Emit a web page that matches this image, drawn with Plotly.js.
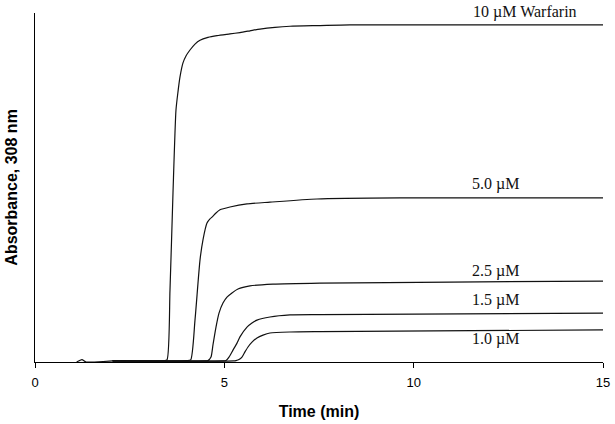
<!DOCTYPE html>
<html>
<head>
<meta charset="utf-8">
<script src="https://cdn.plot.ly/plotly-3.0.1.min.js"></script>
<style>html,body{margin:0;padding:0;background:#fff;}#chart{width:615px;height:424px;}</style>
</head>
<body>
<div id="chart"></div>
<script>
// Time (min) and absorbance (arbitrary units)
const t10  = [1.10, 1.24, 1.35, 2.05, 3.40, 3.486, 3.565, 3.644, 3.723, 3.776, 3.829, 3.908, 3.987, 4.093, 4.225, 4.357, 4.568, 4.806, 5.149, 5.413, 5.677, 5.941, 6.337, 6.734, 7.526, 8.318, 15.0];
const y10  = [0.000, 0.007, 0.000, 0.003, 0.004, 0.006, 0.206, 0.484, 0.722, 0.774, 0.817, 0.857, 0.877, 0.894, 0.911, 0.922, 0.930, 0.935, 0.940, 0.944, 0.949, 0.954, 0.959, 0.962, 0.964, 0.966, 0.966];

const t50  = [2.05, 4.00, 4.111, 4.225, 4.357, 4.436, 4.542, 4.621, 4.674, 4.780, 4.885, 5.149, 5.598, 6.205, 7.447, 9.638, 15.0];
const y50  = [0.003, 0.004, 0.006, 0.120, 0.292, 0.350, 0.398, 0.410, 0.415, 0.427, 0.436, 0.444, 0.453, 0.458, 0.467, 0.470, 0.470];

const t25  = [2.05, 4.50, 4.568, 4.648, 4.700, 4.780, 4.859, 4.964, 5.070, 5.202, 5.360, 5.677, 6.285, 7.526, 10.958, 15.0];
const y25  = [0.003, 0.003, 0.004, 0.014, 0.049, 0.100, 0.140, 0.169, 0.186, 0.198, 0.209, 0.218, 0.223, 0.226, 0.229, 0.232];

const t15  = [2.05, 4.98, 5.044, 5.123, 5.228, 5.334, 5.413, 5.598, 5.730, 5.862, 6.205, 6.734, 7.526, 15.0];
const y15  = [0.003, 0.003, 0.004, 0.014, 0.034, 0.054, 0.072, 0.100, 0.112, 0.120, 0.129, 0.135, 0.136, 0.140];

const t10b = [2.05, 5.25, 5.308, 5.387, 5.466, 5.545, 5.625, 5.730, 5.862, 6.021, 6.205, 6.734, 7.526, 15.0];
const y10b = [0.003, 0.003, 0.004, 0.007, 0.014, 0.029, 0.043, 0.057, 0.069, 0.077, 0.083, 0.086, 0.087, 0.092];

const seriesNames = ["10 µM Warfarin", "5.0 µM", "2.5 µM", "1.5 µM", "1.0 µM"];
const xTicks = [0, 5, 10, 15];

const xs = [t10, t50, t25, t15, t10b];
const ys = [y10, y50, y25, y15, y10b];

const traces = xs.map((x, i) => ({
  x: x, y: ys[i], type: 'scatter', mode: 'lines', name: seriesNames[i],
  line: {color: '#111', width: 1.2, shape: 'spline', smoothing: 0.6},
  hoverinfo: 'skip'
}));

const serif = 'Liberation Serif, Times New Roman, serif';
const sans = 'Liberation Sans, Arial, sans-serif';
// label anchor positions in paper fractions
const labelPos = [[0.8627, 1.004], [0.81, 0.510], [0.81, 0.261], [0.81, 0.178], [0.81, 0.066]];
const annotations = seriesNames.map((s, i) => ({
  text: s, x: labelPos[i][0], y: labelPos[i][1], xref: 'paper', yref: 'paper',
  xanchor: 'center', yanchor: 'middle', showarrow: false,
  font: {family: serif, size: 16, color: '#111'}
}));
annotations.push({
  text: 'Absorbance, 308 nm', xref: 'paper', yref: 'paper',
  x: -0.042, y: 0.50, xanchor: 'center', yanchor: 'middle', textangle: -90,
  showarrow: false, font: {family: sans, size: 16, weight: 'bold', color: '#000'}
});

const layout = {
  width: 615, height: 424,
  margin: {l: 35, r: 12, t: 13, b: 62},
  paper_bgcolor: '#fff', plot_bgcolor: '#fff',
  showlegend: false,
  xaxis: {
    range: [0, 15], tickvals: xTicks, ticktext: xTicks.map(String),
    ticks: 'outside', ticklen: 5, tickwidth: 1, tickcolor: '#000',
    ticklabelstandoff: 3,
    showline: true, linecolor: '#000', linewidth: 1,
    showgrid: false, zeroline: false,
    tickfont: {family: sans, size: 13, color: '#000'},
    title: {text: 'Time (min)', standoff: 17,
      font: {family: sans, size: 16, weight: 'bold', color: '#000'}}
  },
  yaxis: {
    range: [0, 1], showline: true, linecolor: '#000', linewidth: 1,
    ticks: '', showticklabels: false, showgrid: false, zeroline: false
  },
  annotations: annotations
};

Plotly.newPlot('chart', traces, layout, {staticPlot: true, displayModeBar: false});
</script>
</body>
</html>
